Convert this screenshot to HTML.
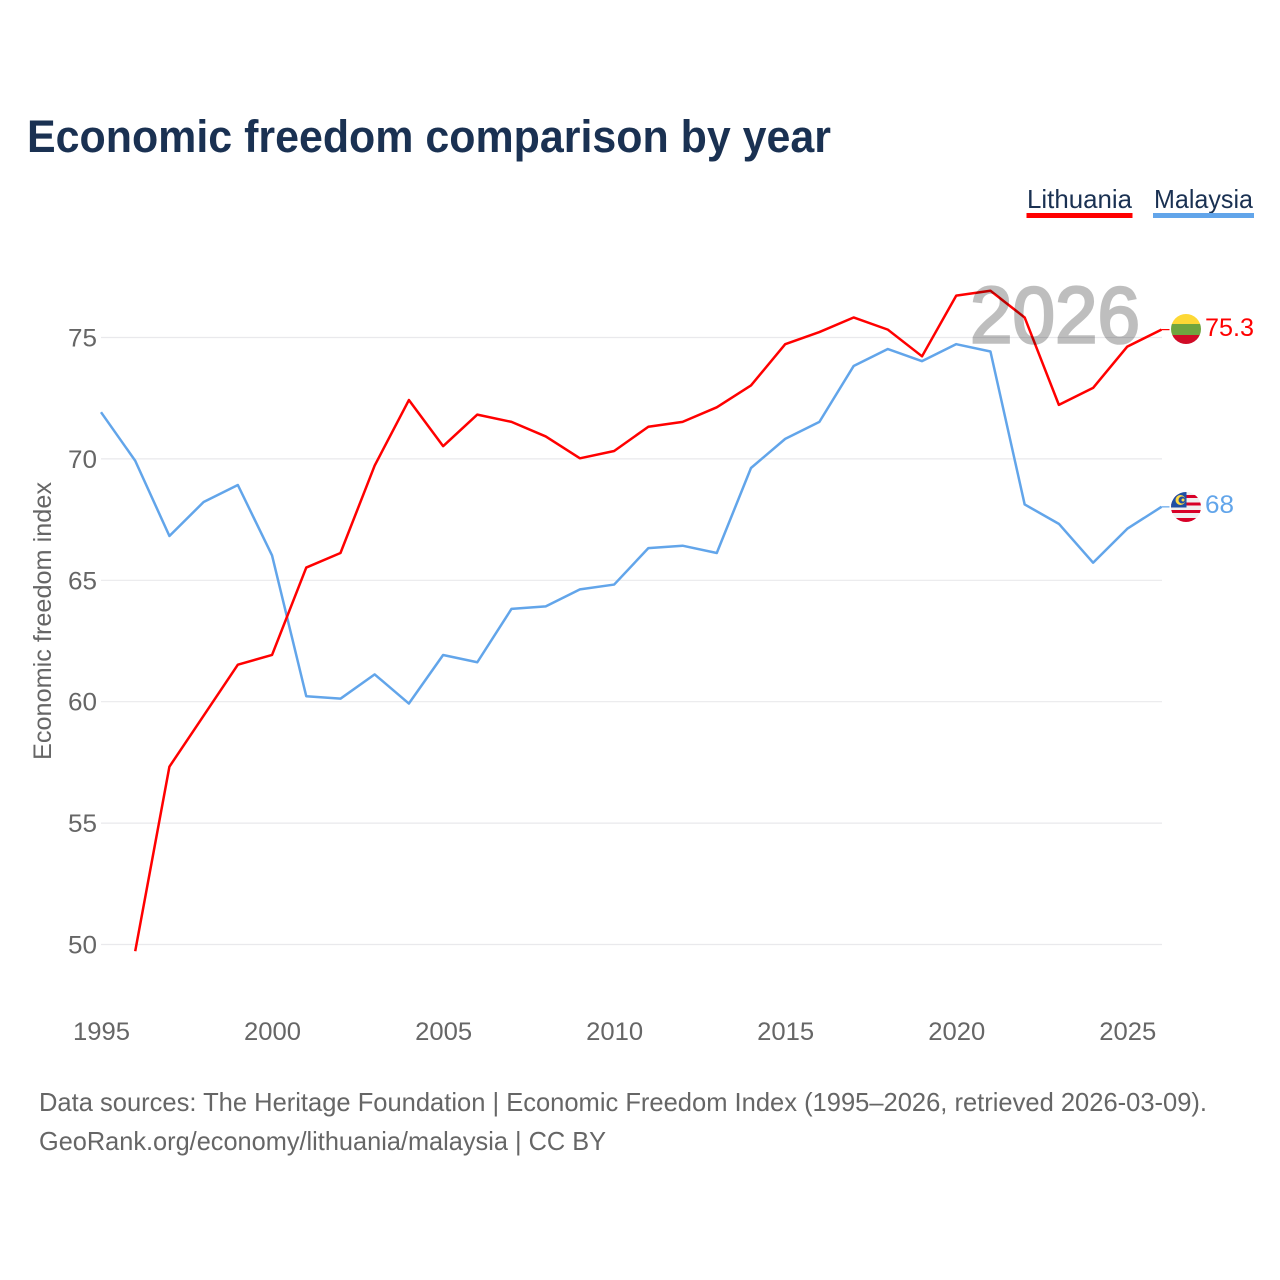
<!DOCTYPE html>
<html lang="en">
<head>
<meta charset="utf-8">
<title>Economic freedom comparison by year</title>
<style>
html,body{margin:0;padding:0;background:#fff}
svg{display:block}
text{font-family:"Liberation Sans",sans-serif}
</style>
</head>
<body>
<svg id="chart" width="1280" height="1280" viewBox="0 0 1280 1280" xmlns="http://www.w3.org/2000/svg">
  <defs>
    <clipPath id="flag-lt-clip"><circle cx="1186" cy="329" r="15"/></clipPath>
    <clipPath id="flag-my-clip"><circle cx="1186" cy="507" r="15"/></clipPath>
  </defs>
  <rect width="1280" height="1280" fill="#fff"/>
  <text x="27" y="152" font-size="45" font-weight="700" fill="#1a3152" textLength="804" lengthAdjust="spacingAndGlyphs">Economic freedom comparison by year</text>

  <g>
    <text x="1027" y="208" font-size="26" fill="#1a3152" textLength="105" lengthAdjust="spacingAndGlyphs">Lithuania</text>
    <rect x="1026.500" y="213" width="106" height="5" fill="#ff0000"/>
  </g>
  <g>
    <text x="1154" y="208" font-size="26" fill="#1a3152" textLength="99" lengthAdjust="spacingAndGlyphs">Malaysia</text>
    <rect x="1153" y="213" width="101" height="5" fill="#62a5ea"/>
  </g>

  <g id="grid"></g>
  <g id="y-ticks"></g>
  <g id="x-ticks"></g>
  <text transform="translate(51,621) rotate(-90)" text-anchor="middle" font-size="25" fill="#666" textLength="278" lengthAdjust="spacingAndGlyphs">Economic freedom index</text>

  <g id="series" transform="translate(-0.5,-0.6)"></g>

  <text x="970" y="342.500" font-size="80" font-weight="400" fill="#000" stroke="#000" stroke-width="2.6" opacity="0.25" textLength="170" lengthAdjust="spacingAndGlyphs">2026</text>

  <g clip-path="url(#flag-lt-clip)">
    <rect x="1171" y="314" width="30" height="10" fill="#fdd835"/>
    <rect x="1171" y="324" width="30" height="11" fill="#6fa53f"/>
    <rect x="1171" y="335" width="30" height="9" fill="#d00c27"/>
  </g>
  <text id="label-lt" x="1205" y="336" font-size="25" fill="#ff0000" textLength="49" lengthAdjust="spacingAndGlyphs">75.3</text>

  <g clip-path="url(#flag-my-clip)">
    <rect x="1171" y="492" width="30" height="30" fill="#f0f0f0"/>
    <rect x="1171" y="495" width="30" height="3" fill="#d80027"/>
    <rect x="1171" y="502.500" width="30" height="3" fill="#d80027"/>
    <rect x="1171" y="510" width="30" height="3" fill="#d80027"/>
    <rect x="1171" y="518" width="30" height="4" fill="#d80027"/>
    <rect x="1171" y="492" width="15.500" height="15.500" fill="#1f4fa3"/>
    <circle cx="1180.500" cy="500" r="5" fill="#ffda44"/>
    <circle cx="1182" cy="500" r="3.500" fill="#1f4fa3"/>
    <circle cx="1183" cy="500" r="1.500" fill="#ffda44"/>
  </g>
  <text id="label-my" x="1205" y="513" font-size="25" fill="#62a5ea" textLength="29" lengthAdjust="spacingAndGlyphs">68</text>

  <text x="39" y="1111" font-size="26" fill="#666" textLength="1168" lengthAdjust="spacingAndGlyphs">Data sources: The Heritage Foundation | Economic Freedom Index (1995–2026, retrieved 2026-03-09).</text>
  <text x="39" y="1150" font-size="26" fill="#666" textLength="567" lengthAdjust="spacingAndGlyphs">GeoRank.org/economy/lithuania/malaysia | CC BY</text>
</svg>
<script>
const years = [1995,1996,1997,1998,1999,2000,2001,2002,2003,2004,2005,2006,2007,2008,2009,2010,2011,2012,2013,2014,2015,2016,2017,2018,2019,2020,2021,2022,2023,2024,2025,2026];
const lithuania = [null,49.7,57.3,59.4,61.5,61.9,65.5,66.1,69.7,72.4,70.5,71.8,71.5,70.9,70.0,70.3,71.3,71.5,72.1,73.0,74.7,75.2,75.8,75.3,74.2,76.7,76.9,75.8,72.2,72.9,74.6,75.3];
const malaysia = [71.9,69.9,66.8,68.2,68.9,66.0,60.2,60.1,61.1,59.9,61.9,61.6,63.8,63.9,64.6,64.8,66.3,66.4,66.1,69.6,70.8,71.5,73.8,74.5,74.0,74.7,74.4,68.1,67.3,65.7,67.1,68.0];
const yTickValues = [50,55,60,65,70,75];
const xTickValues = [1995,2000,2005,2010,2015,2020,2025];

const NS = 'http://www.w3.org/2000/svg';
const xScale = function (year) { return 101.5 + (year - 1995) * (1162 - 101.5) / 31; };
const yScale = function (value) { return 944.5 - (value - 50) * (944.5 - 337.5) / 25; };
const svgEl = function (tag) { return document.createElementNS(NS, tag); };

const gridGroup = document.getElementById('grid');
const yTickGroup = document.getElementById('y-ticks');
yTickValues.forEach(function (v) {
  const line = svgEl('line');
  
  
  line.setAttribute('x1', 101);
  line.setAttribute('x2', 1162);
  line.setAttribute('y1', yScale(v));
  line.setAttribute('y2', yScale(v));
  line.setAttribute('stroke', '#e9e9ec');
  line.setAttribute('stroke-width', 1.2);
  gridGroup.appendChild(line);

  const label = svgEl('text');
  
  
  label.setAttribute('x', 97);
  label.setAttribute('y', yScale(v) + 9);
  label.setAttribute('text-anchor', 'end');
  label.setAttribute('font-size', 25);
  label.setAttribute('fill', '#666');
  label.setAttribute('textLength', 29);
  label.setAttribute('lengthAdjust', 'spacingAndGlyphs');
  label.textContent = String(v);
  yTickGroup.appendChild(label);
});

const xTickGroup = document.getElementById('x-ticks');
xTickValues.forEach(function (year) {
  const label = svgEl('text');
  
  
  label.setAttribute('x', xScale(year));
  label.setAttribute('y', 1040);
  label.setAttribute('text-anchor', 'middle');
  label.setAttribute('font-size', 25);
  label.setAttribute('fill', '#666');
  label.setAttribute('textLength', 57);
  label.setAttribute('lengthAdjust', 'spacingAndGlyphs');
  label.textContent = String(year);
  xTickGroup.appendChild(label);
});

const seriesGroup = document.getElementById('series');
const drawSeries = function (values, color, name) {
  const points = [];
  values.forEach(function (v, i) {
    if (v !== null) points.push(xScale(years[i]).toFixed(2) + ',' + yScale(v).toFixed(2));
  });
  const path = svgEl('polyline');
  
  
  path.setAttribute('points', points.join(' '));
  path.setAttribute('fill', 'none');
  path.setAttribute('stroke', color);
  path.setAttribute('stroke-width', 2.5);
  path.setAttribute('stroke-linejoin', 'round');
  seriesGroup.appendChild(path);

  const lastValue = values[values.length - 1];
  const connector = svgEl('line');
  
  
  connector.setAttribute('x1', xScale(years[years.length - 1]));
  connector.setAttribute('x2', xScale(years[years.length - 1]) + 8);
  connector.setAttribute('y1', yScale(lastValue));
  connector.setAttribute('y2', yScale(lastValue));
  connector.setAttribute('stroke', color);
  connector.setAttribute('stroke-width', 1.2);
  seriesGroup.appendChild(connector);
};
drawSeries(malaysia, '#62a5ea', 'series-line-malaysia');
drawSeries(lithuania, '#ff0000', 'series-line-lithuania');

document.getElementById('label-lt').textContent = String(lithuania[lithuania.length - 1]);
document.getElementById('label-my').textContent = String(malaysia[malaysia.length - 1]);
</script>
</body>
</html>
